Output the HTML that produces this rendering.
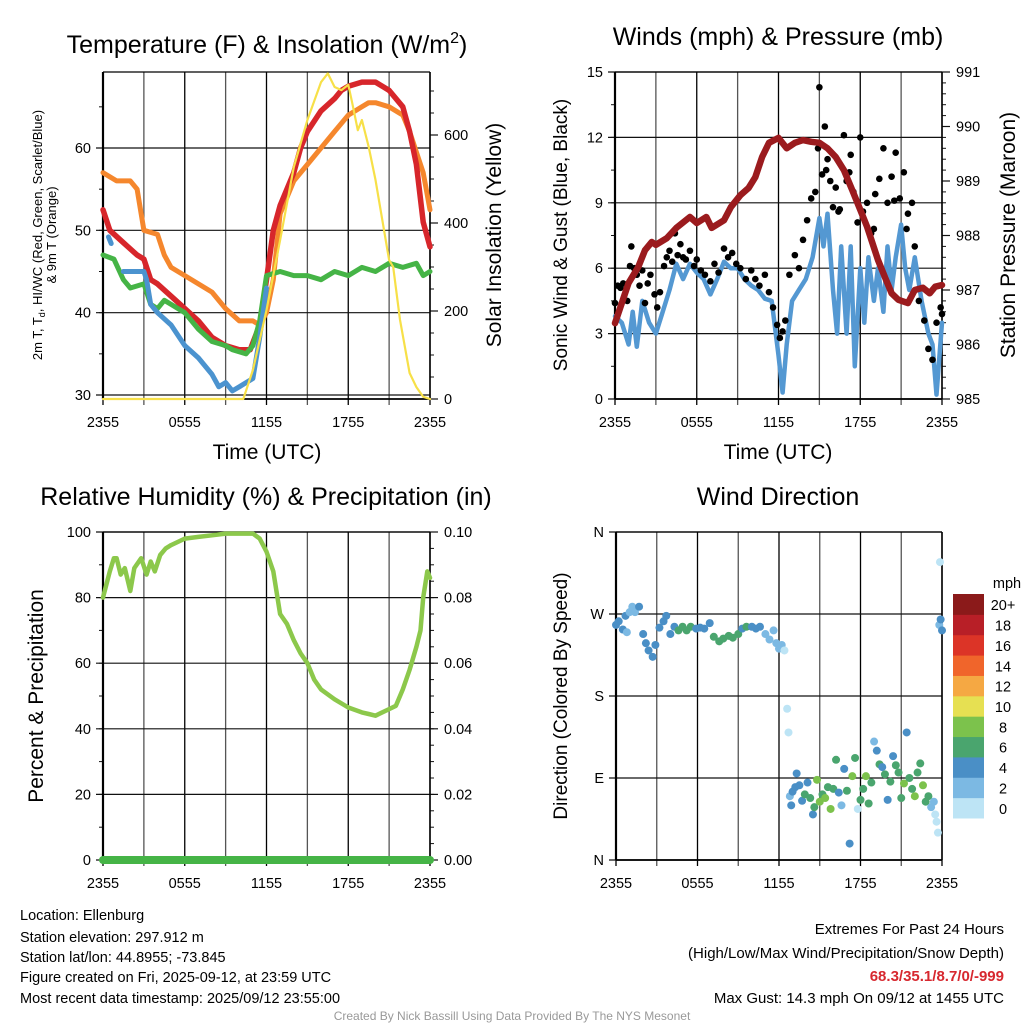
<!DOCTYPE html>
<html><head><meta charset="utf-8"><style>
body{margin:0;background:#fff}
svg{display:block;font-family:"Liberation Sans",Arial,sans-serif}
</style></head><body>
<svg id="c" width="1024" height="1024" viewBox="0 0 1024 1024">
<text x="267" y="53" font-size="25" text-anchor="middle">Temperature (F) &amp; Insolation (W/m<tspan font-size="16" dy="-10">2</tspan><tspan dy="10">)</tspan></text>
<text x="778" y="45" font-size="25" text-anchor="middle">Winds (mph) &amp; Pressure (mb)</text>
<text x="266" y="505" font-size="25" text-anchor="middle">Relative Humidity (%) &amp; Precipitation (in)</text>
<text x="778" y="505" font-size="25" text-anchor="middle">Wind Direction</text>
<text transform="translate(42,235) rotate(-90)" font-size="13" text-anchor="middle">2m T, T<tspan font-size="9" dy="3">d</tspan><tspan dy="-3">, HI/WC (Red, Green, Scarlet/Blue)</tspan></text>
<text transform="translate(56,235) rotate(-90)" font-size="13" text-anchor="middle">&amp; 9m T (Orange)</text>
<text transform="translate(501,235) rotate(-90)" font-size="21" text-anchor="middle">Solar Insolation (Yellow)</text>
<text transform="translate(567,235) rotate(-90)" font-size="19" text-anchor="middle">Sonic Wind &amp; Gust (Blue, Black)</text>
<text transform="translate(1015,235) rotate(-90)" font-size="21" text-anchor="middle">Station Pressure (Maroon)</text>
<text transform="translate(43,696) rotate(-90)" font-size="21" text-anchor="middle">Percent &amp; Precipitation</text>
<text transform="translate(567,696) rotate(-90)" font-size="19" text-anchor="middle">Direction (Colored By Speed)</text>
<text x="267" y="459" font-size="21" text-anchor="middle">Time (UTC)</text>
<text x="778" y="459" font-size="21" text-anchor="middle">Time (UTC)</text>
<g font-size="14.5">
<text x="20" y="920">Location: Ellenburg</text>
<text x="20" y="942">Station elevation: 297.912 m</text>
<text x="20" y="962">Station lat/lon: 44.8955; -73.845</text>
<text x="20" y="982">Figure created on Fri, 2025-09-12, at 23:59 UTC</text>
<text x="20" y="1003">Most recent data timestamp: 2025/09/12 23:55:00</text>
</g>
<g font-size="15" text-anchor="end">
<text x="1004" y="934">Extremes For Past 24 Hours</text>
<text x="1004" y="958">(High/Low/Max Wind/Precipitation/Snow Depth)</text>
<text x="1004" y="981" fill="#d7282f" font-weight="bold">68.3/35.1/8.7/0/-999</text>
<text x="1004" y="1003">Max Gust: 14.3 mph On 09/12 at 1455 UTC</text>
</g>
<text x="512" y="1020" font-size="12" fill="#999" text-anchor="middle">Created By Nick Bassill Using Data Provided By The NYS Mesonet</text>
</svg>
<script>
// ---------- data ----------
const xTickLabels=["2355","0555","1155","1755","2355"];
const redT=[0,0.5,1.5,2.5,3,3.5,4,5,6,7,8,9,10,10.8,11.5,12,12.5,13,14,14.5,15,16,17,17.5,18,19,20,21,22,22.5,23,23.5,24];
const redV=[52.5,50,48.5,47,46.5,44,43.5,42,40.5,39,37,36,35.5,35.5,38.5,44,50,53,57,60,62,64.5,66,67,67.5,68,68,67,65,62,58,51,48];
const orT=[0,1,2,2.5,3,4,4.5,5,6,7,8,9,10,11,11.5,12,12.5,13,14,15,16,17,18,19,19.5,20,21,22,22.5,23,23.5,24];
const orV=[57,56,56,55,50,49.5,47,45.5,44.5,43.5,42.5,40.5,39,39,38.5,40,44,52,56,58,60,62,64,65,65.5,65.5,65,64,62,59.5,57,52.5];
const grT=[0,0.8,1.5,2,3,3.5,4,4.5,5,6,7,8,9,9.5,10.5,11,11.5,12,13,14,15,16,17,18,19,20,21,22,23,23.5,24];
const grV=[47,46.5,44,43,43.5,41,40.5,41.5,41,40,38,36.5,36,35.5,35,36,39,44.5,45,44.5,44.5,44,45,44.5,45.5,45,46,45.5,46,44.5,45];
const blT=[1.5,2.5,3,3.2,3.5,4,5,6,7,8,8.5,9,9.5,10,10.5,11,11.5,12];
const blV=[45,45,45,44,41,40,38.5,36,34.5,32.5,31,31.5,30.5,31,31.5,32,37,43];
const soT=[0,10.3,11,12,13,14,15,16,16.5,17,17.5,18,18.3,18.7,19,19.5,20,20.5,21,21.3,21.8,22.5,23,23.5,24];
const soV=[0,0,66,202,361,527,634,720,740,709,702,714,672,611,634,573,498,407,316,300,180,59,27,5,0];
const prT=[0,0.5,1,1.7,2.2,2.7,3,3.8,4.5,5.5,6,6.7,7.1,8,8.5,9.2,9.8,10.3,10.8,11.3,12,12.6,13.2,13.8,14.4,15,15.6,16.2,16.8,17.4,18,18.5,19.3,19.8,20.3,20.8,21.5,22,22.6,23.1,23.5,24];
const prV=[986.39,986.76,987.13,987.42,987.73,987.88,987.83,987.95,988.14,988.34,988.23,988.34,988.14,988.28,988.52,988.74,988.87,989.07,989.44,989.7,989.79,989.6,989.7,989.75,989.72,989.7,989.6,989.44,989.2,988.84,988.47,988.16,987.55,987.24,986.94,986.82,986.76,987.0,987.04,986.94,987.06,987.09];
const wsT=[0,0.5,1,1.3,1.6,2,2.5,3,3.5,4,4.5,5,5.5,6,6.5,7,7.5,8,8.5,9,9.5,10,10.5,11,11.5,12,12.3,12.6,13,13.5,14,14.5,15,15.3,15.6,16,16.3,16.6,17,17.3,17.6,18,18.3,18.6,19,19.3,19.7,20,20.3,20.6,21,21.3,21.6,22,22.5,23,23.3,23.6,24];
const wsV=[3.8,3.5,2.5,4,2.4,4.5,3.5,3,4,5,6.2,5.5,6.2,5.8,5.5,4.8,5.5,6.3,6,6,5.5,5.2,5,4.6,4.5,2,0.3,2.5,4.5,5,5.5,6.5,8.3,7,8.5,5,3,7,3,7,1.5,6,3.5,6.5,4.5,6,4,7,5,6.5,8,6,5,6.5,4.5,3,2.5,0.2,3.5];
const gustT=[0,0.2,0.4,0.6,0.9,1.1,1.2,1.4,1.6,1.8,2,2.2,2.4,2.6,2.9,3.1,3.3,3.6,3.8,4,4.2,4.4,4.6,4.8,5,5.2,5.5,5.8,6,6.3,6.6,7,7.3,7.6,8,8.3,8.6,8.9,9.2,9.6,10,10.3,10.6,11,11.3,11.6,11.9,12.1,12.3,12.5,12.8,13.2,13.5,13.8,14.1,14.4,14.7,14.9,15,15.2,15.4,15.6,15.8,16,16.2,16.5,16.8,17,17.3,17.5,17.8,18,18.2,18.5,18.8,19.1,19.4,19.7,20,20.3,20.6,20.9,21.2,21.5,21.8,22,22.3,22.7,23,23.3,23.6,23.9,24,15.5,16.4,17.2,19,20.5,21.4];
const gustV=[4.4,5.2,5.1,5.3,4.5,6.1,7,6,5.7,5.2,5.9,4.4,5.3,5.7,4.8,4.2,4.9,6.1,6.5,6.8,6.3,7.6,6.6,7.1,6.5,6.4,6.8,6.1,6.4,5.9,5.7,5.4,6.2,5.8,6.9,6.5,6.7,6.2,6,5.5,5.9,5.5,5.2,5.7,4.9,4.2,3.4,2.8,3.1,3.6,5.7,6.6,6,7.3,8.2,9.2,9.5,11.5,14.3,10.3,12.5,11,10,8.8,9.7,8.7,12.1,10,11.2,9.5,8.1,12,8.6,9,7.6,9.4,10.1,11.5,9,10.2,11.3,9.2,10.4,8.5,9,7,4.5,3.6,2.3,1.8,3.5,4.2,3.9,10.5,8.6,10.4,7.8,9.1,7.8];
const rhT=[0,0.5,0.8,1,1.3,1.6,2,2.3,2.8,3.2,3.5,3.8,4.2,4.6,5,6,7,8,9,10,11,11.5,12,12.5,13,13.5,14,14.5,15,15.5,16,17,18,19,19.5,20,21,21.5,22,22.5,23,23.3,23.5,23.8,24];
const rhV=[80,88,92,92,87,89,82,89,92,87,91,88,93,95,96,98,98.5,99,99.5,99.5,99.5,98,94,88,75,72,67,63,60,55,52,49,46.5,45,44.5,44,46,47,52,58,65,70,80,88,86];
const pcpT=[0,24];
const pcpV=[0,0];
const dirT=[0,0.2,0.5,0.7,0.8,1,1.2,1.4,1.7,2,2.2,2.4,2.7,2.9,3.2,3.5,3.7,4,4.3,4.6,4.9,5.2,5.5,5.9,6.2,6.5,6.9,7.2,7.6,7.9,8.3,8.6,9,9.3,9.6,10,10.3,10.6,11,11.3,11.6,11.8,12,12.2,12.4,12.6,12.7,12.8,12.9,13,13.2,13.3,13.5,13.7,13.9,14.1,14.3,14.5,14.6,14.8,15,15.2,15.4,15.6,15.8,16,16.2,16.4,16.6,16.8,17,17.2,17.4,17.6,17.8,18,18.2,18.4,18.6,18.8,19,19.2,19.4,19.6,19.8,20,20.2,20.4,20.6,20.8,21,21.2,21.4,21.6,21.8,22,22.2,22.4,22.6,22.8,23,23.2,23.4,23.5,23.6,23.7,23.8,23.85,23.9,24];
const dirV=[258,262,253,268,250,272,278,272,278,248,238,230,223,236,255,262,268,248,256,252,256,252,256,254,255,254,260,245,240,243,246,244,248,254,256,256,254,256,248,242,252,238,232,236,230,166,140,70,60,75,80,95,82,65,72,85,68,50,58,88,64,72,68,80,56,78,110,74,60,100,76,18,92,112,56,66,78,92,62,85,130,120,105,102,94,66,86,114,104,96,68,84,140,90,78,70,96,106,82,64,70,58,64,50,42,30,258,327,264,252];
const dirS=[4,4,4,4,3,2,2,2,4,4,4,4,4,4,4,4,4,4,4,6,6,6,6,4,4,4,4,6,6,6,6,6,6,4,6,4,4,4,2,2,2,2,2,2,0,0,0,2,4,4,4,4,4,4,6,4,6,4,6,8,8,6,8,6,8,6,6,4,2,4,6,4,8,6,0,6,6,8,6,6,2,4,6,4,6,4,6,4,6,6,6,8,4,6,6,8,6,6,8,6,6,2,2,0,0,0,2,0,4,4];
const cbLabels=["0","2","4","6","8","10","12","14","16","18","20+"];
const cbColors=["#bde4f5","#7cb9e3","#4a8fc6","#4aa56e","#7cc24c","#e6e052","#f5a843","#f0652b","#dc3427","#b81f27","#8b1a1a"];

// ---------- drawing ----------
const NS="http://www.w3.org/2000/svg";
const svg=document.getElementById('c');
function el(tag,attrs,parent){const e=document.createElementNS(NS,tag);for(const k in attrs)e.setAttribute(k,attrs[k]);(parent||svg).appendChild(e);return e;}
function lin(d0,d1,r0,r1){return v=>r0+(v-d0)*(r1-r0)/(d1-d0);}

function frame(x0,x1,y0,y1,name,yTicks,yLab,yFn,lMinor,rTicks,rLab,rFn,rMinor){
  const g=el('g',{});
  
  
  const xs=lin(0,24,x0,x1);
  for(let i=0;i<=8;i++){const x=xs(i*3);el('line',{x1:x,x2:x,y1:y0,y2:y1+6,stroke:i%2?'#555':'#000','stroke-width':1.3},g);}
  lMinor.forEach(v=>{const y=yFn(v);el('line',{x1:x0-4,x2:x0,y1:y,y2:y,stroke:'#111'},g);});
  yTicks.forEach((v,i)=>{const y=yFn(v);el('line',{x1:x0-7,x2:x1,y1:y,y2:y,stroke:'#111','stroke-width':1.2},g);
    const t=el('text',{x:x0-12,y:y+5,'font-size':14.5,'text-anchor':'end'},g);t.textContent=yLab[i];});
  if(rTicks){rTicks.forEach((v,i)=>{const y=rFn(v);el('line',{x1:x1,x2:x1+8,y1:y,y2:y,stroke:'#111','stroke-width':1.2},g);
    const t=el('text',{x:x1+14,y:y+5,'font-size':14.5},g);t.textContent=rLab[i];});
    rMinor.forEach(v=>{const y=rFn(v);el('line',{x1:x1,x2:x1+4,y1:y,y2:y,stroke:'#111'},g);});}
  el('line',{x1:x0,x2:x0,y1:y0,y2:y1,stroke:'#000','stroke-width':2.2},g);
  el('line',{x1:x1,x2:x1,y1:y0,y2:y1,stroke:'#000','stroke-width':1.5},g);
  el('line',{x1:x0,x2:x1,y1:y0,y2:y0,stroke:'#000','stroke-width':1.3},g);
  el('line',{x1:x0,x2:x1,y1:y1,y2:y1,stroke:'#000','stroke-width':1.8},g);
  xTickLabels.forEach((s,i)=>{const t=el('text',{x:xs(i*6),y:y1+28,'font-size':14.5,'text-anchor':'middle'},g);t.textContent=s;});
  return xs;
}
function path(ts,vs,xs,ys,stroke,w,name){
  let d='';ts.forEach((t,i)=>{d+=(i?'L':'M')+xs(t).toFixed(1)+','+ys(vs[i]).toFixed(1);});
  const p=el('path',{d:d,fill:'none',stroke:stroke,'stroke-width':w,'stroke-linejoin':'round','stroke-linecap':'round'});
  
  
}
function rng(a,b,s){const r=[];for(let v=a;v<=b+1e-9;v+=s)r.push(v);return r;}

// Panel 1
const t1y=lin(30,60,395,148), s1y=lin(0,600,399,135);
const xs1=frame(103,430,72,399,'temperature',[30,40,50,60],["30","40","50","60"],t1y,rng(30,68,5),[0,200,400,600],["0","200","400","600"],s1y,rng(0,700,50));
path(orT,orV,xs1,t1y,'#f5872d',5,'orange-9m-temp-line');
path(redT,redV,xs1,t1y,'#d7262b',5.5,'red-2m-temp-line');
path(grT,grV,xs1,t1y,'#45b446',5,'green-dewpoint-line');
path(blT,blV,xs1,t1y,'#4b93cf',5,'blue-windchill-line');
path([0.4,0.6],[49.2,48.4],xs1,t1y,'#4b93cf',5,'blue-windchill-start');
path(soT,soV,xs1,s1y,'#f7e048',2.2,'yellow-solar-line');

// Panel 2
const w2y=lin(0,15,399,72), p2y=lin(985,991,399,72);
const xs2=frame(615,942,72,399,'wind',[0,3,6,9,12,15],["0","3","6","9","12","15"],w2y,rng(0,15,1.5),[985,986,987,988,989,990,991],["985","986","987","988","989","990","991"],p2y,rng(985,991,0.2));
path(wsT,wsV,xs2,w2y,'#5498d2',4.5,'sonic-wind-line');
gustT.forEach((t,i)=>{const c=el('circle',{cx:xs2(t),cy:w2y(gustV[i]),r:3.3,fill:'#000'});
  
  });
path(prT,prV,xs2,p2y,'#9b1b1e',6.5,'pressure-line');

// Panel 3
const h3y=lin(0,100,860,532), q3y=lin(0,0.1,860,532);
const xs3=frame(103,430,532,860,'humidity',[0,20,40,60,80,100],["0","20","40","60","80","100"],h3y,rng(0,100,10),[0,0.02,0.04,0.06,0.08,0.1],["0.00","0.02","0.04","0.06","0.08","0.10"],q3y,rng(0,0.1,0.005));
path(rhT,rhV,xs3,h3y,'#8cc84b',4.5,'humidity-line');
path(pcpT,pcpV,xs3,q3y,'#45b446',8,'precipitation-line');

// Panel 4
const d4y=lin(0,360,860,532);
const xs4=frame(616,942,532,860,'direction',[0,90,180,270,360],["N","E","S","W","N"],d4y,[],null,null,null,null);
dirT.forEach((t,i)=>{const ci=Math.min(10,Math.floor(dirS[i]/2));
  const c=el('circle',{cx:xs4(t),cy:d4y(dirV[i]),r:4,fill:cbColors[ci]});
  
  });
// colorbar
const cb=el('g',{});


const cbh=224/11;
cbColors.forEach((col,i)=>{const y=818-(i+1)*cbh;el('rect',{x:953,y:y,width:31,height:cbh+0.5,fill:col},cb);
  const t=el('text',{x:1003,y:y+cbh/2+6,'font-size':14.5,'text-anchor':'middle'},cb);t.textContent=cbLabels[i];});
const mt=el('text',{x:1007,y:588,'font-size':14.5,'text-anchor':'middle'},cb);mt.textContent='mph';
</script>
</body></html>
